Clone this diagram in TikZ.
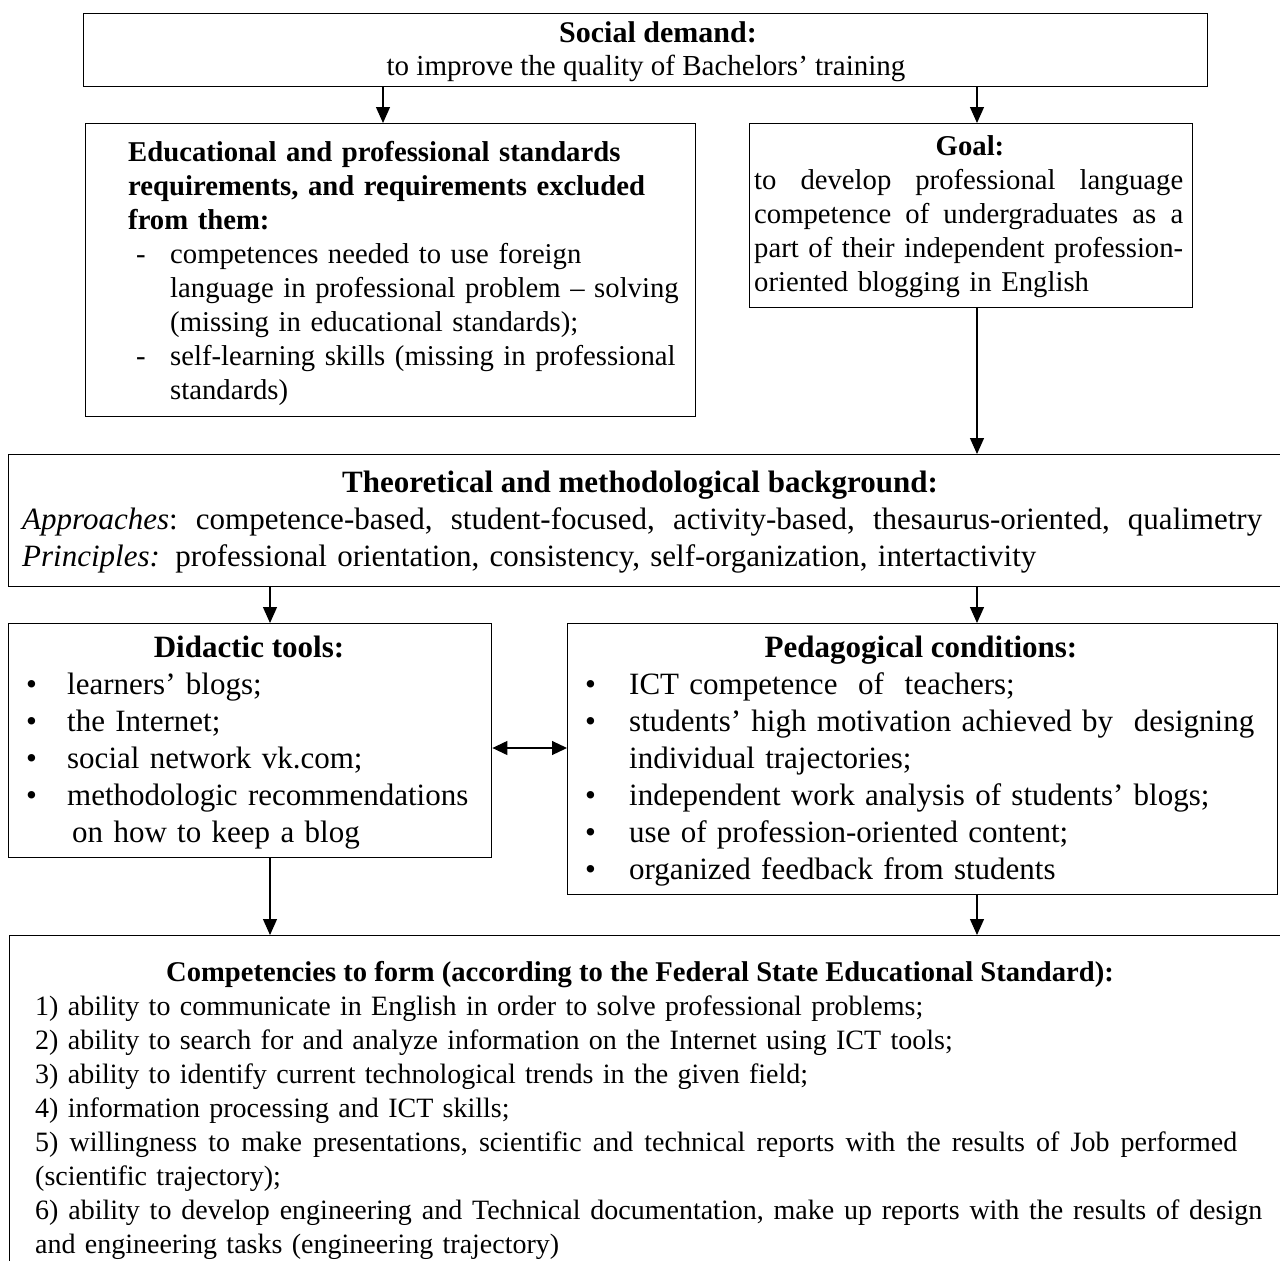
\documentclass[tikz,border=0pt]{standalone}
\usepackage{fontspec}
\setmainfont{Liberation Serif}
\usetikzlibrary{arrows.meta,positioning}

\newcommand{\fsmid}{\fontsize{28.7pt}{34pt}\selectfont}
\newcommand{\fsbig}{\fontsize{31pt}{37pt}\selectfont}
\newcommand{\fslow}{\fontsize{28pt}{34pt}\selectfont}
\newcommand{\fullline}[2]{\leavevmode\hbox to #1{\frenchspacing\spaceskip=0.25em plus 1fil\relax #2}}

\tikzset{
  box/.style={draw, line width=1.4pt, anchor=north west, inner sep=0pt},
  txt/.style={anchor=base west, inner sep=0pt, text width=#1, align=left},
  txt/.default=1260pt,
  head/.style={anchor=base, inner sep=0pt},
  arr/.style={line width=1.2pt, -{Triangle[length=16pt,width=14pt]}},
  dblarr/.style={line width=1.2pt, {Triangle[length=15pt,width=14pt]}-{Triangle[length=15pt,width=14pt]}},
}

\begin{document}
\begin{tikzpicture}[x=1pt, y=-1pt]
  \useasboundingbox (0,0) rectangle (1280,1261);
  \clip (0,0) rectangle (1280,1261);

  \node[box, minimum width=1124pt, minimum height=73pt] (demand) at (83,13) {};
  \node[box, minimum width=610pt, minimum height=293pt] (stds) at (85,123) {};
  \node[box, minimum width=443pt, minimum height=184pt] (goal) at (749,123) {};
  \node[box, minimum width=1300pt, minimum height=132pt] (theory) at (8,454) {};
  \node[box, minimum width=483pt, minimum height=234pt] (tools) at (8,623) {};
  \node[box, minimum width=710pt, minimum height=271pt] (conds) at (567,623) {};
  \node[box, minimum width=1300pt, minimum height=400pt] (comps) at (9,935) {};

  \node[head, font=\fontsize{30pt}{34pt}\selectfont\bfseries] (demandhead) at (658,42) {Social demand:};
  \node[head, font=\fontsize{29pt}{34pt}\selectfont] (demandtext) at (646,75) {to improve the quality of Bachelors’ training};

  \node[txt=560pt, font=\fsmid] (stdstext) at (128,161) {%
    {\bfseries Educational and professional standards\\
    requirements, and requirements excluded\\
    from them:}\\
    \hspace*{8pt}\makebox[34pt][l]{-}competences needed to use foreign\\
    \hspace*{42pt}language in professional problem -- solving\\
    \hspace*{42pt}(missing in educational standards);\\
    \hspace*{8pt}\makebox[34pt][l]{-}self-learning skills (missing in professional\\
    \hspace*{42pt}standards)};

  \node[head, font=\fsmid\bfseries] (goalhead) at (970,155) {Goal:};
  \node[txt=440pt, font=\fsmid] (goaltext) at (754,189) {%
    \fullline{429pt}{to develop professional language}\\
    \fullline{429pt}{competence of undergraduates as a}\\
    \fullline{429pt}{part of their independent profession-}\\
    oriented blogging in English};

  \node[head, font=\fsbig\bfseries] (theoryhead) at (640,492) {Theoretical and methodological background:};
  \node[txt, font=\fsbig] (theorytext) at (22,529) {%
    \fullline{1240pt}{\textit{Approaches}: competence-based, student-focused, activity-based, thesaurus-oriented, qualimetry}\\
    \textit{Principles:} professional orientation, consistency, self-organization, intertactivity};

  \node[head, font=\fsbig\bfseries] (toolshead) at (249,657) {Didactic tools:};
  \node[txt=460pt, font=\fsbig] (toolstext) at (26,694) {%
    \makebox[41pt][l]{\textbullet}learners’ blogs;\\
    \makebox[41pt][l]{\textbullet}the Internet;\\
    \makebox[41pt][l]{\textbullet}social network vk.com;\\
    \makebox[41pt][l]{\textbullet}methodologic recommendations\\
    \hspace*{46pt}on how to keep a blog};

  \node[head, font=\fsbig\bfseries] (condshead) at (921,657) {Pedagogical conditions:};
  \node[txt=700pt, font=\fsbig] (condstext) at (585,694) {%
    \makebox[44pt][l]{\textbullet}ICT competence\ \ of\ \ teachers;\\
    \makebox[44pt][l]{\textbullet}students’ high motivation achieved by\ \ designing\\
    \hspace*{44pt}individual trajectories;\\
    \makebox[44pt][l]{\textbullet}independent work analysis of students’ blogs;\\
    \makebox[44pt][l]{\textbullet}use of profession-oriented content;\\
    \makebox[44pt][l]{\textbullet}organized feedback from students};

  \node[head, font=\fontsize{28.6pt}{34pt}\selectfont\bfseries] (compshead) at (640,981) {Competencies to form (according to the Federal State Educational Standard):};
  \node[txt=1250pt, font=\fslow] (compstext) at (35,1015) {%
    1) ability to communicate in English in order to solve professional problems;\\
    2) ability to search for and analyze information on the Internet using ICT tools;\\
    3) ability to identify current technological trends in the given field;\\
    4) information processing and ICT skills;\\
    \fullline{1202pt}{5) willingness to make presentations, scientific and technical reports with the results of Job performed}\\
    (scientific trajectory);\\
    \fullline{1227pt}{6) ability to develop engineering and Technical documentation, make up reports with the results of design}\\
    and engineering tasks (engineering trajectory)};

  \coordinate (colstd) at (383,0);
  \coordinate (colright) at (977,0);
  \coordinate (colleft) at (270,0);
  \coordinate (rowlink) at (0,748);

  \draw[arr] (demand.south -| colstd) -- (stds.north -| colstd);
  \draw[arr] (demand.south -| colright) -- (goal.north -| colright);
  \draw[arr] (goal.south -| colright) -- (theory.north -| colright);
  \draw[arr] (theory.south -| colleft) -- (tools.north -| colleft);
  \draw[arr] (theory.south -| colright) -- (conds.north -| colright);
  \draw[arr] (tools.south -| colleft) -- (comps.north -| colleft);
  \draw[arr] (conds.south -| colright) -- (comps.north -| colright);
  \draw[dblarr] (tools.east |- rowlink) -- (conds.west |- rowlink);
\end{tikzpicture}
\end{document}
